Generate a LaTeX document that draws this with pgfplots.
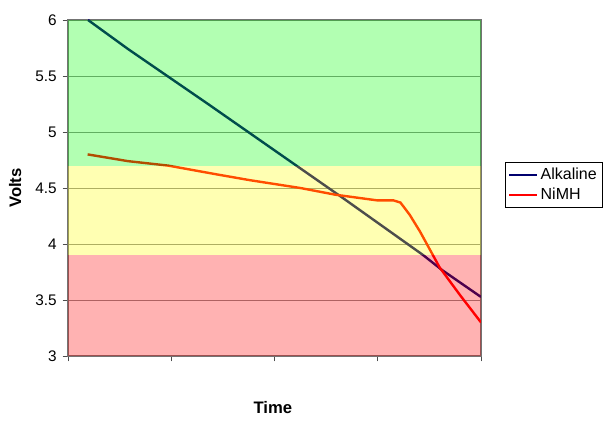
\documentclass[border=0pt]{standalone}
\usepackage{pgfplots}
\pgfplotsset{compat=1.18}
\usepackage{fontspec}
\setmainfont{Liberation Sans}
\begin{document}
\begin{tikzpicture}
\path[use as bounding box] (0,0) rectangle (453pt,318pt);
\begin{axis}[
  at={(51pt,51pt)}, anchor=south west,
  scale only axis, width=309.75pt, height=252pt,
  xmin=0, xmax=4, ymin=3, ymax=6,
  xtick={0,1,2,3,4}, xticklabels={},
  ytick={3,3.5,4,4.5,5,5.5,6},
  yticklabels={3,3.5,4,4.5,5,5.5,6},
  tick align=outside, tick pos=left,
  major tick length=4pt,
  tick style={black!70, line width=0.6pt},
  axis line style={draw=black!55, line width=0.8pt},
  ymajorgrids, grid style={black!45, line width=0.5pt},
  /pgf/number format/assume math mode=true,
  ticklabel style={font=\fontsize{11.5}{13}\selectfont},
  yticklabel style={xshift=-1pt},
  xlabel={Time}, ylabel={Volts},
  xlabel style={font=\fontsize{12.5}{14}\selectfont\bfseries, at={(axis description cs:0.496,-0.152)}, anchor=center},
  ylabel style={font=\fontsize{12.5}{14}\selectfont\bfseries, at={(axis description cs:-0.128,0.5)}, anchor=center, rotate=0},
  legend style={at={(axis description cs:1.058,0.577)}, anchor=north west, draw=black, line width=0.6pt,
    font=\fontsize{12}{14}\selectfont, row sep=1pt, inner xsep=2pt, inner ysep=2pt},
  legend cell align=left,
  legend image code/.code={\draw[#1, line width=1.5pt] (0pt,0pt) -- (21pt,0pt);},
]
\addplot[color={rgb,255:red,0;green,0;blue,110}, line width=1.8pt] coordinates {
(0.194,6.000) (0.581,5.741) (1.356,5.250) (2.218,4.696) (2.634,4.429)
(3.438,3.902) (3.622,3.768) (4.000,3.527)};
\addlegendentry{Alkaline}
\addplot[color=red, line width=1.8pt] coordinates {
(0.19,4.80) (0.58,4.74) (0.97,4.70) (1.45,4.62) (1.76,4.57) (2.25,4.50)
(2.59,4.44) (2.83,4.41) (2.99,4.39) (3.15,4.39) (3.22,4.37) (3.31,4.26)
(3.41,4.11) (3.60,3.79) (3.80,3.54) (4.00,3.30)};
\addlegendentry{NiMH}
\addplot[forget plot, draw=none, fill={rgb,255:red,0;green,255;blue,0}, fill opacity=0.3]
  coordinates {(0,4.7) (4,4.7) (4,6) (0,6)} -- cycle;
\addplot[forget plot, draw=none, fill={rgb,255:red,255;green,255;blue,0}, fill opacity=0.3]
  coordinates {(0,3.9) (4,3.9) (4,4.7) (0,4.7)} -- cycle;
\addplot[forget plot, draw=none, fill={rgb,255:red,255;green,0;blue,0}, fill opacity=0.3]
  coordinates {(0,3) (4,3) (4,3.9) (0,3.9)} -- cycle;
\end{axis}
\end{tikzpicture}
\end{document}
